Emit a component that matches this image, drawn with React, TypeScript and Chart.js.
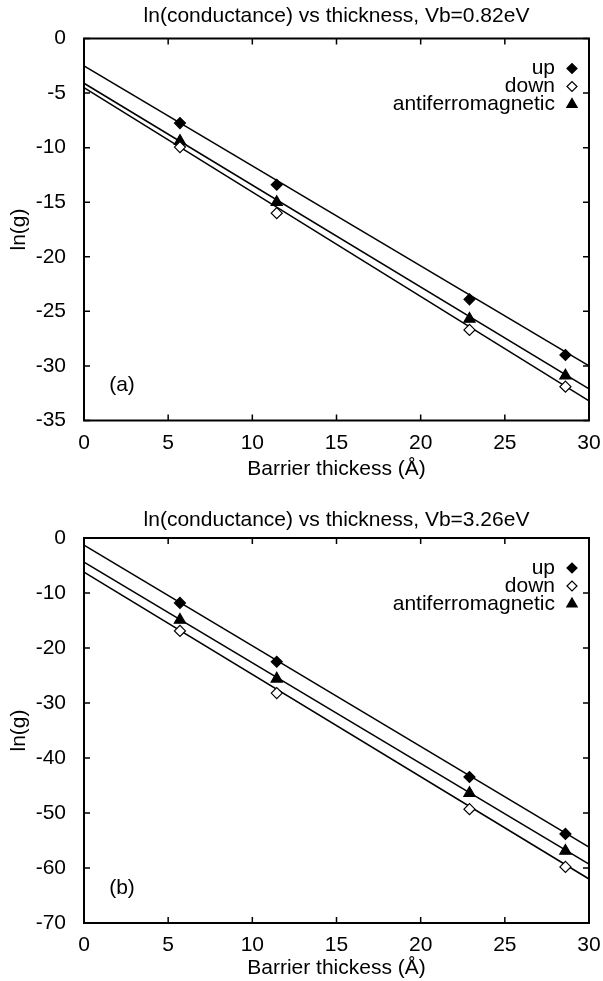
import React, { useEffect, useRef } from 'react';
import { Chart, registerables } from 'chart.js';
import { drawPoint } from 'chart.js/helpers';

Chart.register(...registerables);

// ---- data ----
const thickness = [5.7, 11.45, 22.9, 28.6];
const fitX = [0, 30];
const seriesLabels = ['up', 'down', 'antiferromagnetic'];

const upA = [-7.75, -13.4, -23.9, -29.0];
const downA = [-9.95, -16.0, -26.7, -31.9];
const afmA = [-9.4, -15.0, -25.7, -30.9];
const upFitA = [-2.5, -30.0];
const downFitA = [-4.5, -33.2];
const afmFitA = [-4.1, -32.1];

const upB = [-11.8, -22.5, -43.45, -53.8];
const downB = [-16.9, -28.2, -49.3, -59.8];
const afmB = [-14.9, -25.6, -46.4, -56.9];
const upFitB = [-1.3, -56.2];
const downFitB = [-6.2, -62.0];
const afmFitB = [-4.4, -59.3];

const FONT = '"Liberation Sans", Arial, Helvetica, sans-serif';
const FS = 21;

const toPts = (xs: number[], ys: number[]) => xs.map((x, i) => ({ x, y: ys[i] }));

const markerStyles = [
  { pointStyle: 'rectRot', radius: 5.5, fill: '#000' },
  { pointStyle: 'rectRot', radius: 5.5, fill: '#fff' },
  { pointStyle: 'triangle', radius: 6.5, fill: '#000' },
];

const framePlugin = {
  id: 'frameTicks',
  afterDatasetsDraw(chart: any) {
    const { ctx, chartArea: a, scales } = chart;
    ctx.save();
    ctx.strokeStyle = '#000';
    ctx.lineWidth = 2;
    ctx.strokeRect(a.left, a.top, a.right - a.left, a.bottom - a.top);
    ctx.lineWidth = 1.5;
    const L = 6;
    ctx.beginPath();
    scales.x.ticks.forEach((t: any) => {
      const px = scales.x.getPixelForValue(t.value);
      ctx.moveTo(px, a.bottom);
      ctx.lineTo(px, a.bottom - L);
      ctx.moveTo(px, a.top);
      ctx.lineTo(px, a.top + L);
    });
    scales.y.ticks.forEach((t: any) => {
      const py = scales.y.getPixelForValue(t.value);
      ctx.moveTo(a.left, py);
      ctx.lineTo(a.left + L, py);
      ctx.moveTo(a.right, py);
      ctx.lineTo(a.right - L, py);
    });
    ctx.stroke();

    // legend
    const opts = chart.options.plugins.frameTicks || {};
    ctx.font = `${FS}px ${FONT}`;
    ctx.fillStyle = '#000';
    ctx.textAlign = 'right';
    ctx.textBaseline = 'middle';
    seriesLabels.forEach((lab, i) => {
      const y = a.top + 30 + i * 18;
      ctx.fillText(lab, a.right - 34, y);
      const m = markerStyles[i];
      ctx.fillStyle = m.fill;
      ctx.strokeStyle = '#000';
      ctx.lineWidth = 1.2;
      drawPoint(ctx, { pointStyle: m.pointStyle as any, radius: i === 2 ? 6 : 5, rotation: 0, borderWidth: 1.2 }, a.right - 17, y);
      ctx.fillStyle = '#000';
    });
    // panel tag
    ctx.textAlign = 'center';
    ctx.fillText(opts.tag || '', a.left + 38, a.bottom - 35);
    ctx.restore();
  },
};

type Cfg = {
  title: string;
  tag: string;
  ymin: number;
  ystep: number;
  up: number[]; down: number[]; afm: number[];
  upFit: number[]; downFit: number[]; afmFit: number[];
  height: number;
  titlePadTop: number;
  titlePadBottom: number;
  xAxisHeight: number;
  xTickPad: number;
  xTitlePad: number;
};

function makeConfig(c: Cfg): any {
  const pointDs = [c.up, c.down, c.afm].map((ys, i) => ({
    type: 'scatter',
    label: seriesLabels[i],
    data: toPts(thickness, ys),
    showLine: false,
    pointStyle: markerStyles[i].pointStyle,
    pointRadius: markerStyles[i].radius,
    pointBackgroundColor: markerStyles[i].fill,
    pointBorderColor: '#000',
    pointBorderWidth: 1.2,
  }));
  const lineDs = [c.upFit, c.downFit, c.afmFit].map((ys, i) => ({
    type: 'line',
    label: seriesLabels[i] + ' fit',
    data: toPts(fitX, ys),
    borderColor: '#000',
    borderWidth: 1.5,
    pointRadius: 0,
    fill: false,
    tension: 0,
  }));
  return {
    type: 'scatter',
    data: { datasets: [...pointDs, ...lineDs] },
    options: {
      responsive: false,
      animation: false,
      layout: { padding: { left: 0, right: 14, top: 0, bottom: 0 } },
      plugins: {
        legend: { display: false },
        tooltip: { enabled: false },
        title: {
          display: true,
          fullSize: false,
          text: c.title,
          color: '#000',
          font: { family: FONT, size: FS, weight: 'normal', lineHeight: 1.2 },
          padding: { top: c.titlePadTop, bottom: c.titlePadBottom },
        },
        frameTicks: { tag: c.tag },
      },
      scales: {
        x: {
          type: 'linear',
          min: 0,
          max: 30,
          grid: { display: false, drawTicks: false },
          border: { display: false },
          ticks: {
            stepSize: 5,
            color: '#000',
            padding: c.xTickPad,
            maxRotation: 0,
            font: { family: FONT, size: FS },
          },
          title: {
            display: true,
            text: 'Barrier thickess (Å)',
            color: '#000',
            font: { family: FONT, size: FS, lineHeight: 1.2 },
            padding: { top: 0, bottom: c.xTitlePad },
          },
          afterFit(scale: any) {
            scale.height = c.xAxisHeight;
            scale.paddingLeft = 0;
            scale.paddingRight = 0;
          },
        },
        y: {
          type: 'linear',
          min: c.ymin,
          max: 0,
          grid: { display: false, drawTicks: false },
          border: { display: false },
          ticks: {
            stepSize: c.ystep,
            color: '#000',
            padding: 18,
            font: { family: FONT, size: FS },
          },
          title: {
            display: true,
            text: 'ln(g)',
            color: '#000',
            font: { family: FONT, size: FS, lineHeight: 1.2 },
            padding: { top: 7, bottom: 0 },
          },
          afterFit(scale: any) {
            scale.width = 84;
            scale.paddingTop = 0;
            scale.paddingBottom = 0;
          },
        },
      },
    },
    plugins: [framePlugin],
  };
}

function Panel({ cfg }: { cfg: Cfg }) {
  const ref = useRef<HTMLCanvasElement | null>(null);
  useEffect(() => {
    if (!ref.current) return;
    const chart = new Chart(ref.current, makeConfig(cfg));
    return () => chart.destroy();
  }, [cfg]);
  return <canvas ref={ref} width={603} height={cfg.height} style={{ display: 'block' }} />;
}

const cfgA: Cfg = {
  title: 'ln(conductance) vs thickness, Vb=0.82eV',
  tag: '(a)',
  ymin: -35, ystep: 5,
  up: upA, down: downA, afm: afmA,
  upFit: upFitA, downFit: downFitA, afmFit: afmFitA,
  height: 495,
  titlePadTop: 3.4, titlePadBottom: 9.9,
  xAxisHeight: 74.5, xTickPad: 10, xTitlePad: 13.4,
};

const cfgB: Cfg = {
  title: 'ln(conductance) vs thickness, Vb=3.26eV',
  tag: '(b)',
  ymin: -70, ystep: 10,
  up: upB, down: downB, afm: afmB,
  upFit: upFitB, downFit: downFitB, afmFit: afmFitB,
  height: 486,
  titlePadTop: 12.4, titlePadBottom: 5.4,
  xAxisHeight: 58, xTickPad: 10, xTitlePad: 0,
};

export default function App() {
  useEffect(() => {
    document.body.style.margin = '0';
    document.body.style.background = '#fff';
  }, []);
  return (
    <div style={{ width: 603, height: 981, background: '#fff' }}>
      <Panel cfg={cfgA} />
      <Panel cfg={cfgB} />
    </div>
  );
}
